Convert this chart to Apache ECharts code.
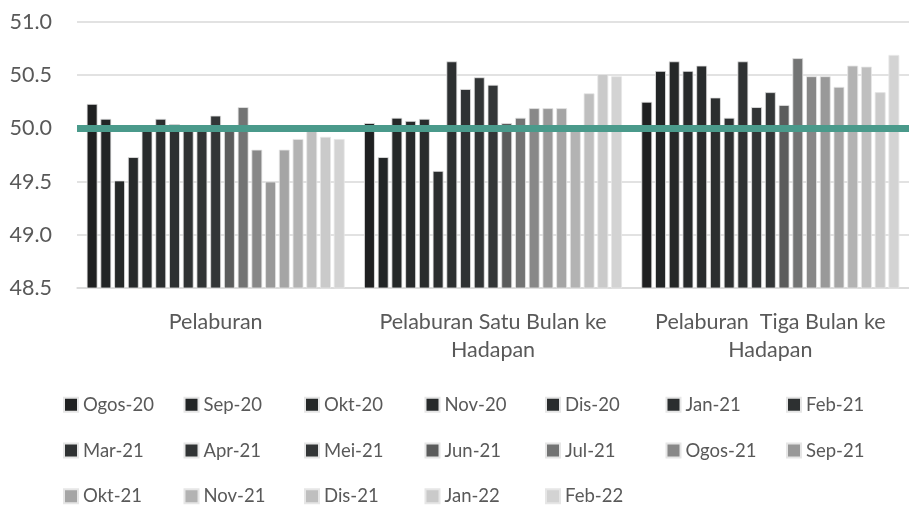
<!DOCTYPE html>
<html><head><meta charset="utf-8">
<script src="https://cdn.jsdelivr.net/npm/echarts@6/dist/echarts.min.js"></script>
<style>html,body{margin:0;padding:0;background:#fff}#c{width:909px;height:506px}</style>
</head><body><div id="c"></div>
<script>
const categories = ['Pelaburan', 'Pelaburan Satu Bulan ke\nHadapan', 'Pelaburan  Tiga Bulan ke\nHadapan'];
const seriesNames = ['Ogos-20','Sep-20','Okt-20','Nov-20','Dis-20','Jan-21','Feb-21','Mar-21','Apr-21','Mei-21','Jun-21','Jul-21','Ogos-21','Sep-21','Okt-21','Nov-21','Dis-21','Jan-22','Feb-22'];
const seriesColors = ['#1f2021','#222526','#252828','#272a2b','#292c2d','#2b2e2f','#2d3031','#2f3233','#313435','#333637','#5b5c5c','#737474','#888888','#999999','#a5a5a5','#b3b3b3','#bfbfbf','#cacaca','#d3d3d3'];
// values per series: [Pelaburan, Satu Bulan, Tiga Bulan]
const vOgos20 = [50.23, 50.05, 50.25];
const vSep20  = [50.09, 49.73, 50.54];
const vOkt20  = [49.51, 50.10, 50.63];
const vNov20  = [49.73, 50.07, 50.54];
const vDis20  = [50.0, 50.09, 50.59];
const vJan21  = [50.09, 49.60, 50.29];
const vFeb21  = [50.04, 50.63, 50.10];
const vMar21  = [50.0, 50.37, 50.63];
const vApr21  = [50.0, 50.48, 50.20];
const vMei21  = [50.12, 50.41, 50.34];
const vJun21  = [49.99, 50.05, 50.22];
const vJul21  = [50.20, 50.10, 50.66];
const vOgos21 = [49.80, 50.19, 50.49];
const vSep21  = [49.50, 50.19, 50.49];
const vOkt21  = [49.80, 50.19, 50.39];
const vNov21  = [49.90, 50.0, 50.59];
const vDis21  = [49.99, 50.33, 50.58];
const vJan22  = [49.92, 50.51, 50.34];
const vFeb22  = [49.90, 50.49, 50.69];
const allValues = [vOgos20,vSep20,vOkt20,vNov20,vDis20,vJan21,vFeb21,vMar21,vApr21,vMei21,vJun21,vJul21,vOgos21,vSep21,vOkt21,vNov21,vDis21,vJan22,vFeb22];
const yTicks = [48.5, 49.0, 49.5, 50.0, 50.5, 51.0];
const refLine = 50.0;

const font = 'Lato, "Noto Sans", sans-serif';
const series = seriesNames.map((n, i) => {
  const s = {
    name: n, type: 'bar', data: allValues[i],
    itemStyle: { color: seriesColors[i], borderColor: '#e6e6e6', borderWidth: 0.8 },
    barGap: '27%', barCategoryGap: '7%'
  };
  if (i === seriesNames.length - 1) {
    s.markLine = {
      silent: true, symbol: 'none', label: { show: false },
      lineStyle: { color: '#4a9a8b', width: 7, type: 'solid' },
      data: [{ yAxis: refLine }], z: 10
    };
  }
  return s;
});

const chart = echarts.init(document.getElementById('c'));
chart.setOption({
  animation: false,
  grid: { left: 77, right: 0, top: 22, bottom: 218, containLabel: false },
  legend: {
    data: seriesNames, left: 58, top: 387, width: 845,
    itemWidth: 14, itemHeight: 14, itemGap: 20,
    icon: 'rect',
    textStyle: { fontFamily: font, fontSize: 18.5, color: '#595959', width: 80.5, lineHeight: 25.7 }
  },
  xAxis: {
    type: 'category', data: categories,
    axisLine: { show: true, lineStyle: { color: '#d9d9d9', width: 1.5 } },
    axisTick: { show: false },
    axisLabel: { fontFamily: font, fontSize: 21.5, color: '#595959', margin: 20, lineHeight: 28, interval: 0 }
  },
  yAxis: {
    type: 'value', min: yTicks[0], max: yTicks[yTicks.length - 1], interval: 0.5,
    axisLine: { show: false }, axisTick: { show: false },
    splitLine: { lineStyle: { color: '#d9d9d9', width: 1.5 } },
    axisLabel: { fontFamily: font, fontSize: 21.5, color: '#595959', margin: 25,
      formatter: v => v.toFixed(1) }
  },
  series: series
});
</script></body></html>
